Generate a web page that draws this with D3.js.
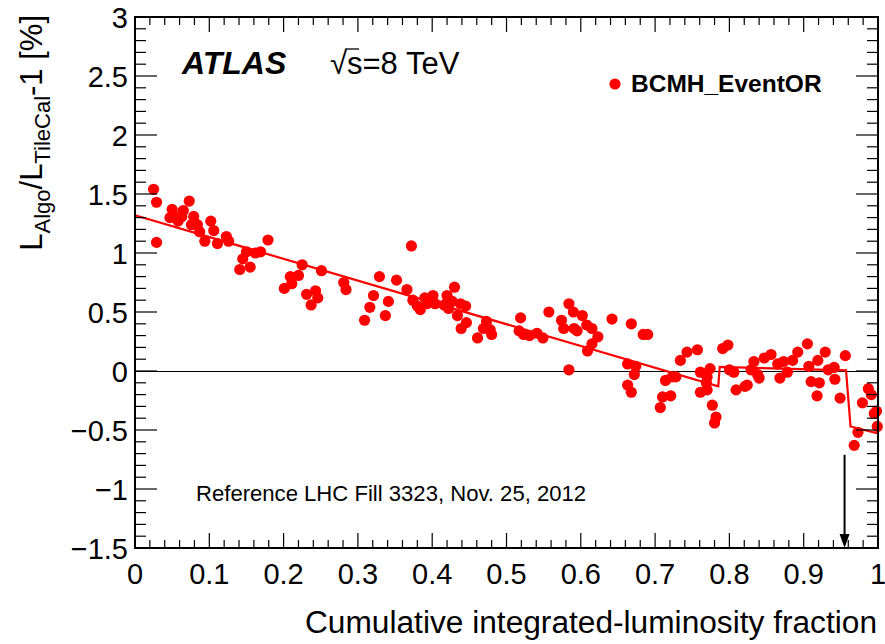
<!DOCTYPE html>
<html><head><meta charset="utf-8">
<script src="https://cdn.jsdelivr.net/npm/d3@7"></script>
<style>body{margin:0;background:#fff}svg{display:block;font-family:"Liberation Sans",Arial,sans-serif}</style>
</head><body><svg id="c" width="885" height="644"></svg>
<script>
const fracX = [0.025,0.029,0.029,0.047,0.050,0.054,0.058,0.063,0.065,0.073,0.076,0.079,0.084,0.087,0.094,0.102,0.106,0.111,0.123,0.126,
0.141,0.145,0.150,0.155,0.162,0.169,0.179,0.201,0.209,0.211,0.220,0.225,0.231,0.237,0.243,0.246,0.251,0.281,0.284,0.309,
0.316,0.321,0.329,0.337,0.341,0.352,0.366,0.372,0.374,0.380,0.384,0.390,0.393,0.401,0.404,0.416,0.420,0.422,0.427,0.430,
0.434,0.438,0.439,0.445,0.446,0.461,0.469,0.473,0.478,0.480,0.517,0.519,0.523,0.531,0.541,0.549,0.557,0.574,0.577,0.584,
0.584,0.590,0.591,0.595,0.602,0.608,0.609,0.615,0.615,0.623,0.642,0.663,0.663,0.668,0.668,0.672,0.674,0.684,0.690,0.707,
0.710,0.714,0.721,0.723,0.728,0.734,0.743,0.757,0.761,0.761,0.769,0.770,0.770,0.774,0.777,0.782,0.780,0.791,0.798,0.800,
0.806,0.809,0.821,0.824,0.829,0.833,0.838,0.840,0.847,0.856,0.865,0.868,0.873,0.878,0.885,0.892,0.905,0.907,0.910,0.919,
0.921,0.918,0.929,0.933,0.941,0.942,0.949,0.956,0.968,0.973,0.979,0.987,0.991,0.995,0.998,0.999];
const ratioPct = [1.54,1.43,1.09,1.30,1.37,1.31,1.27,1.31,1.36,1.44,1.24,1.31,1.24,1.18,1.10,1.27,1.19,1.08,1.14,1.10,
0.86,0.95,1.01,0.88,1.00,1.01,1.11,0.70,0.80,0.74,0.81,0.90,0.65,0.56,0.68,0.62,0.85,0.75,0.69,0.43,
0.54,0.64,0.80,0.47,0.59,0.77,0.69,1.06,0.60,0.55,0.52,0.62,0.57,0.64,0.57,0.56,0.64,0.53,0.59,0.71,
0.47,0.57,0.36,0.55,0.41,0.28,0.36,0.42,0.35,0.31,0.34,0.45,0.31,0.30,0.32,0.28,0.50,0.43,0.36,0.57,
0.01,0.50,0.36,0.34,0.47,0.39,0.17,0.36,0.23,0.29,0.44,0.06,-0.12,0.40,-0.18,-0.03,0.04,0.31,0.31,-0.31,
-0.22,-0.08,-0.21,-0.05,-0.05,0.09,0.16,0.18,-0.01,-0.18,-0.10,-0.05,-0.16,0.02,-0.29,-0.39,-0.44,0.19,0.22,0.01,
-0.01,-0.16,-0.13,-0.12,0.01,0.08,-0.03,-0.06,0.11,0.14,0.06,-0.06,0.08,-0.01,0.09,0.16,0.23,0.04,-0.09,0.09,
-0.10,-0.21,0.16,0.01,0.03,-0.07,-0.23,0.13,-0.63,-0.52,-0.27,-0.15,-0.20,-0.36,-0.34,-0.47];
const fitX = [0, 0.785, 0.787, 0.957, 0.963, 1.0];
const fitY = [1.32, -0.13, 0.035, 0.005, -0.47, -0.53];
const xTicks = [0,0.1,0.2,0.3,0.4,0.5,0.6,0.7,0.8,0.9,1];
const xTickLabels = ["0","0.1","0.2","0.3","0.4","0.5","0.6","0.7","0.8","0.9","1"];
const yTicks = [3,2.5,2,1.5,1,0.5,0,-0.5,-1,-1.5];
const yTickLabels = ["3","2.5","2","1.5","1","0.5","0","\u22120.5","\u22121","\u22121.5"];
const arrowX = 0.955, arrowTop = -0.71;

const svg = d3.select("#c");
const L=135,R=878,T=17,B=548;
const x = d3.scaleLinear().domain([0,1]).range([L,R]);
const y = d3.scaleLinear().domain([-1.5,3]).range([B,T]);

svg.append("line").attr("x1",x(0)).attr("x2",x(1)).attr("y1",y(0)+0.5).attr("y2",y(0)+0.5).attr("stroke","#000").attr("stroke-width",1).attr("shape-rendering","crispEdges");

svg.append("path").datum(fitX.map((v,i)=>[v,fitY[i]]))
  .attr("d",d3.line().x(d=>x(d[0])).y(d=>y(d[1])))
  .attr("fill","none").attr("stroke","#ff0000").attr("stroke-width",2.2);

svg.append("g").selectAll("circle").data(fracX.map((v,i)=>[v,ratioPct[i]])).join("circle")
  .attr("cx",d=>x(d[0])).attr("cy",d=>y(d[1])).attr("r",5.6).attr("fill","#ff0000");

const g = svg.append("g").attr("stroke","#000").attr("stroke-width",1.2);
d3.range(0,1.0001,0.02).forEach(v=>{
  const maj = Math.abs(v*10-Math.round(v*10))<1e-6;
  const len = maj?15:8;
  g.append("line").attr("x1",x(v)).attr("x2",x(v)).attr("y1",B).attr("y2",B-len);
  g.append("line").attr("x1",x(v)).attr("x2",x(v)).attr("y1",T).attr("y2",T+len);
});
d3.range(-1.5,3.0001,0.1).forEach(v=>{
  const maj = Math.abs(v*2-Math.round(v*2))<1e-6;
  const len = maj?22:11;
  g.append("line").attr("x1",L).attr("x2",L+len).attr("y1",y(v)).attr("y2",y(v));
  g.append("line").attr("x1",R).attr("x2",R-len).attr("y1",y(v)).attr("y2",y(v));
});
svg.append("rect").attr("x",L).attr("y",T).attr("width",R-L).attr("height",B-T)
  .attr("fill","none").attr("stroke","#000").attr("stroke-width",2);

svg.append("g").selectAll("text").data(xTicks).join("text")
  .attr("x",d=>x(d)).attr("y",584).attr("text-anchor","middle").attr("font-size",29).text((d,i)=>xTickLabels[i]);
svg.append("g").selectAll("text").data(yTicks).join("text")
  .attr("x",128).attr("y",d=>y(d)+10.5).attr("text-anchor","end").attr("font-size",29).text((d,i)=>yTickLabels[i]);

svg.append("text").attr("x",305).attr("y",633).attr("font-size",31)
  .attr("textLength",572).attr("lengthAdjust","spacingAndGlyphs")
  .text("Cumulative integrated-luminosity fraction");
const yt = svg.append("text").attr("transform","translate(42,15) rotate(-90)").attr("text-anchor","end").attr("font-size",31);
yt.append("tspan").text("L");
yt.append("tspan").attr("font-size",22).attr("dy",8).text("Algo");
yt.append("tspan").attr("dy",-8).text("/L");
yt.append("tspan").attr("font-size",22).attr("dy",8).text("TileCal");
yt.append("tspan").attr("dy",-8).text("-1 [%]");

svg.append("text").attr("x",182).attr("y",74).attr("font-size",32).attr("font-weight","bold").attr("font-style","italic").text("ATLAS");
const st = svg.append("text").attr("x",330).attr("y",74).attr("font-size",31);
st.append("tspan").text("\u221A");
st.append("tspan").text("s=8 TeV");
svg.append("line").attr("x1",345).attr("x2",359).attr("y1",49).attr("y2",49).attr("stroke","#000").attr("stroke-width",1.3);

svg.append("circle").attr("cx",615).attr("cy",84).attr("r",5.6).attr("fill","#ff0000");
svg.append("text").attr("x",631).attr("y",92).attr("font-size",24.5).attr("font-weight","bold").text("BCMH_EventOR");

svg.append("text").attr("x",196).attr("y",501).attr("font-size",22.1).text("Reference LHC Fill 3323, Nov. 25, 2012");

svg.append("line").attr("x1",x(arrowX)).attr("x2",x(arrowX)).attr("y1",y(arrowTop)).attr("y2",B-12).attr("stroke","#000").attr("stroke-width",2);
svg.append("path").attr("d",`M${x(arrowX)-5},${B-14} L${x(arrowX)+5},${B-14} L${x(arrowX)},${B} Z`).attr("fill","#000");
</script></body></html>
